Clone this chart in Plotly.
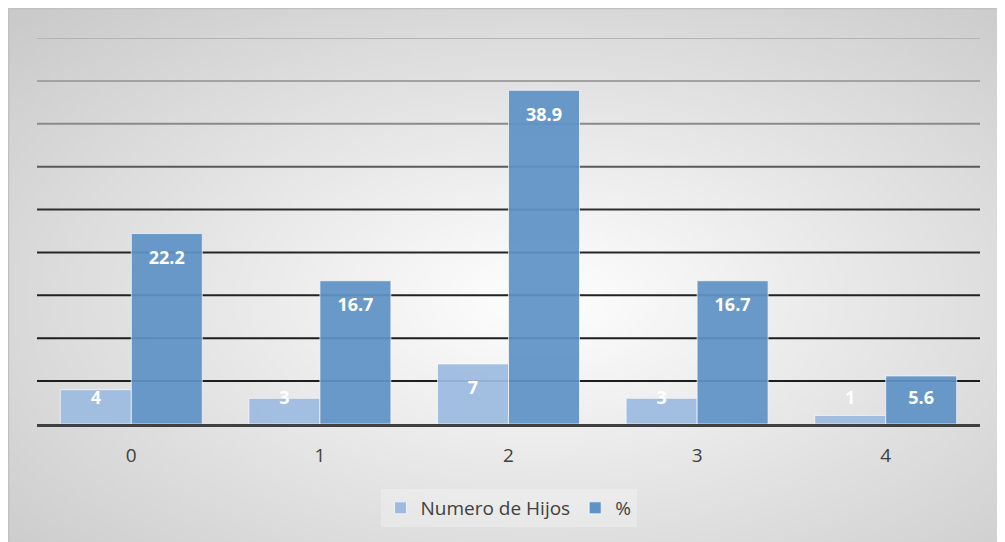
import base64, struct, zlib
import numpy as np
import plotly.graph_objects as go

categories = [0, 1, 2, 3, 4]
hijos = [4, 3, 7, 3, 1]
pct = [22.2, 16.7, 38.9, 16.7, 5.6]
hijos_labels = ["4", "3", "7", "3", "1"]
pct_labels = ["22.2", "16.7", "38.9", "16.7", "5.6"]
grid_values = [5, 10, 15, 20, 25, 30, 35, 40, 45]
grid_colors = ["#1e1e1e", "#1e1e1e", "#222222", "#262626", "#2e2e2e",
               "#5a5a5a", "#8a8a8a", "#a2a2a2", "#b4b4b4"]

W, H = 1005, 542
L, T = 29, 30
PW, PH = 943, 386
R, B = W - L - PW, H - T - PH

# background radial gradient as PNG (covers the whole paper)
def make_png(arr):
    h, w, _ = arr.shape
    raw = b"".join(b"\x00" + arr[i].tobytes() for i in range(h))
    def chunk(tag, data):
        c = struct.pack(">I", len(data)) + tag + data
        return c + struct.pack(">I", zlib.crc32(tag + data) & 0xffffffff)
    png = b"\x89PNG\r\n\x1a\n"
    png += chunk(b"IHDR", struct.pack(">IIBBBBB", w, h, 8, 2, 0, 0, 0))
    png += chunk(b"IDAT", zlib.compress(raw, 9))
    png += chunk(b"IEND", b"")
    return png

gw, gh = 250, 134
xs = np.linspace(0, W, gw)
ys = np.linspace(0, H, gh)
X, Y = np.meshgrid(xs, ys)
cx, cy = 532, 292
d = np.sqrt(((X - cx) / cx) ** 2 + ((Y - cy) / cy) ** 2)
val = np.clip(255 - 38 * d, 185, 255).astype(np.uint8)
img = np.stack([val, val, val], axis=-1)
src = "data:image/png;base64," + base64.b64encode(make_png(img)).decode()

bargap = 0.247
w = (1 - bargap) / 2

fig = go.Figure()
fig.add_trace(go.Bar(x=categories, y=hijos, name="Numero de Hijos",
                     marker=dict(color="#9dbbe0", opacity=0.93,
                                 line=dict(color="rgba(255,255,255,0.7)", width=1)),
                     hoverinfo="skip"))
fig.add_trace(go.Bar(x=categories, y=pct, name="%",
                     marker=dict(color="#5f93c6", opacity=0.93,
                                 line=dict(color="rgba(255,255,255,0.7)", width=1)),
                     hoverinfo="skip"))

def label_y(vals):
    return [max(v - 3.0, 2.9) for v in vals]

fig.add_trace(go.Scatter(x=[c - w / 2 for c in categories], y=label_y(hijos),
                         text=hijos_labels, mode="text", showlegend=False,
                         textfont=dict(color="white", size=18, family="Open Sans"),
                         texttemplate="<b>%{text}</b>", cliponaxis=False, hoverinfo="skip"))
fig.add_trace(go.Scatter(x=[c + w / 2 for c in categories], y=label_y(pct),
                         text=pct_labels, mode="text", showlegend=False,
                         textfont=dict(color="white", size=18, family="Open Sans"),
                         texttemplate="<b>%{text}</b>", cliponaxis=False, hoverinfo="skip"))

shapes = []
for v, c in zip(grid_values, grid_colors):
    shapes.append(dict(type="line", xref="paper", x0=0, x1=1, yref="y", y0=v, y1=v,
                       line=dict(color=c, width=2), layer="below"))
shapes.append(dict(type="rect", xref="paper", yref="paper",
                   x0=(0.5 - L) / PW, x1=(W - L + 5) / PW,
                   y0=-(B + 5) / PH, y1=(PH + T - 0.5) / PH,
                   line=dict(color="#c0c0c0", width=1.5), layer="below"))

fig.update_layout(
    width=W, height=H,
    margin=dict(l=L, r=R, t=T, b=B),
    paper_bgcolor="white", plot_bgcolor="rgba(0,0,0,0)",
    barmode="group", bargap=bargap, bargroupgap=0,
    font=dict(family="Open Sans", color="#404040"),
    images=[dict(source=src, xref="paper", yref="paper",
                 x=-L / PW, y=(PH + T) / PH,
                 sizex=W / PW, sizey=H / PH, sizing="stretch",
                 xanchor="left", yanchor="top", layer="below")],
    shapes=shapes,
    xaxis=dict(range=[-0.5, 4.5], tickvals=categories, ticktext=[str(c) for c in categories],
               showgrid=False, zeroline=False, showline=True, linecolor="#404040",
               linewidth=3, ticks="", ticklabelstandoff=12,
               tickfont=dict(size=19, color="#404040")),
    yaxis=dict(range=[0, 45], showgrid=False, zeroline=False, showticklabels=False,
               showline=False, ticks=""),
    legend=dict(orientation="h", x=0.5, xanchor="center", y=(T + PH - 500) / PH,
                yanchor="middle", font=dict(size=19, color="#404040"),
                bgcolor="rgba(255,255,255,0.25)", itemwidth=30, traceorder="normal"),
    showlegend=True,
)

fig.write_html("out.html")
